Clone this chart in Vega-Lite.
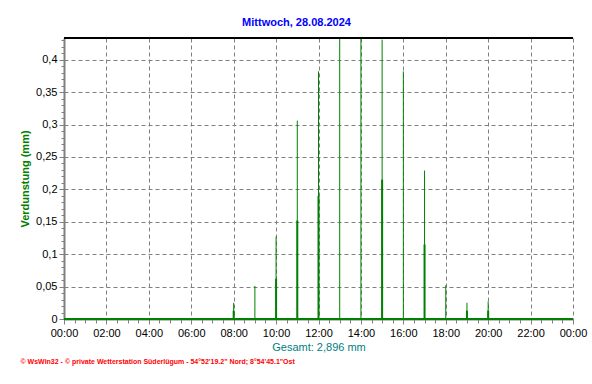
{
  "$schema": "https://vega.github.io/schema/vega-lite/v6.json",
  "width": 509,
  "height": 281,
  "autosize": {"type": "none"},
  "padding": {"left": 64, "top": 38, "right": 19, "bottom": 65},
  "background": "white",
  "config": {"view": {"stroke": null}, "font": "Liberation Sans"},
  "title": {"text": "Mittwoch, 28.08.2024", "color": "#0000ff", "fontSize": 11, "font": "Liberation Sans", "fontWeight": "bold", "dx": -22, "offset": 10},
  "datasets": {
    "bars": [
      {"hour": 8, "value": 0.025, "kind": "tall"},
      {"hour": 9, "value": 0.051, "kind": "tall"},
      {"hour": 10, "value": 0.127, "kind": "tall"},
      {"hour": 11, "value": 0.306, "kind": "tall"},
      {"hour": 12, "value": 0.382, "kind": "tall"},
      {"hour": 13, "value": 0.45, "kind": "tall"},
      {"hour": 14, "value": 0.45, "kind": "tall"},
      {"hour": 15, "value": 0.431, "kind": "tall"},
      {"hour": 16, "value": 0.382, "kind": "tall"},
      {"hour": 17, "value": 0.229, "kind": "tall"},
      {"hour": 18, "value": 0.052, "kind": "tall"},
      {"hour": 19, "value": 0.025, "kind": "tall"},
      {"hour": 20, "value": 0.027, "kind": "tall"},
      {"hour": 8, "value": 0.013, "kind": "short"},
      {"hour": 10, "value": 0.062, "kind": "short"},
      {"hour": 11, "value": 0.152, "kind": "short"},
      {"hour": 12, "value": 0.19, "kind": "short"},
      {"hour": 15, "value": 0.215, "kind": "short"},
      {"hour": 17, "value": 0.115, "kind": "short"},
      {"hour": 19, "value": 0.013, "kind": "short"},
      {"hour": 20, "value": 0.013, "kind": "short"}
    ]
  },
  "data": {"name": "bars"},
  "layer": [
    {
      "transform": [{"filter": "datum.kind == 'tall'"}],
      "mark": {"type": "rule", "color": "#008000", "strokeWidth": 1, "clip": true},
      "encoding": {
        "x": {
          "field": "hour", "type": "quantitative",
          "scale": {"domain": [0, 24], "nice": false, "zero": false},
          "axis": {
            "values": [0, 2, 4, 6, 8, 10, 12, 14, 16, 18, 20, 22, 24],
            "labelExpr": "datum.value == 24 ? '00:00' : (datum.value < 10 ? '0' : '') + datum.value + ':00'",
            "grid": true, "gridColor": "#808080", "gridDash": [4, 3], "gridWidth": 1,
            "domainColor": "#808080", "domainWidth": 2,
            "tickColor": "#808080", "tickSize": 5,
            "labelFont": "Liberation Sans", "labelFontSize": 11, "labelColor": "black", "labelPadding": 3, "labelFlush": false, "labelOverlap": false,
            "title": "Gesamt: 2,896 mm", "titleColor": "#008080", "titleFont": "Liberation Sans", "titleFontWeight": "normal", "titleFontSize": 11, "titlePadding": 3
          }
        },
        "y": {
          "field": "value", "type": "quantitative",
          "scale": {"domain": [0, 0.4335], "nice": false, "zero": true},
          "axis": {
            "values": [0, 0.05, 0.1, 0.15, 0.2, 0.25, 0.3, 0.35, 0.4],
            "labelExpr": "replace(format(datum.value, '~g'), '.', ',')",
            "grid": true, "gridColor": "#808080", "gridDash": [4, 3], "gridWidth": 1,
            "domainColor": "#808080", "domainWidth": 2,
            "tickColor": "#808080", "tickSize": 5,
            "labelFont": "Liberation Sans", "labelFontSize": 11, "labelColor": "black", "labelPadding": 2,
            "title": "Verdunstung  (mm)", "titleColor": "#008000", "titleFont": "Liberation Sans", "titleFontWeight": "bold", "titleFontSize": 11, "titlePadding": 5
          }
        },
        "y2": {"datum": 0}
      }
    },
    {
      "transform": [{"filter": "datum.kind == 'short'"}],
      "mark": {"type": "rule", "color": "#008000", "strokeWidth": 2, "clip": true},
      "encoding": {
        "x": {
          "field": "hour", "type": "quantitative",
          "axis": {
            "orient": "bottom",
            "values": [0, 0.5, 1, 1.5, 2, 2.5, 3, 3.5, 4, 4.5, 5, 5.5, 6, 6.5, 7, 7.5, 8, 8.5, 9, 9.5, 10, 10.5, 11, 11.5, 12, 12.5, 13, 13.5, 14, 14.5, 15, 15.5, 16, 16.5, 17, 17.5, 18, 18.5, 19, 19.5, 20, 20.5, 21, 21.5, 22, 22.5, 23, 23.5, 24],
            "labels": false, "grid": false, "domain": false,
            "tickColor": "#808080", "tickSize": 4,
            "title": "© WsWin32  -  © private Wetterstation Süderlügum  -  54°52'19.2\" Nord; 8°54'45.1\"Ost",
            "titleColor": "#ff0000", "titleFont": "Liberation Sans", "titleFontSize": 7, "titleFontWeight": "bold",
            "titleAnchor": "start", "titleAlign": "left", "titleX": -44, "titleY": 42, "titleBaseline": "middle"
          }
        },
        "y": {
          "field": "value", "type": "quantitative",
          "axis": {
            "orient": "left",
            "values": [0, 0.01, 0.02, 0.03, 0.04, 0.05, 0.06, 0.07, 0.08, 0.09, 0.1, 0.11, 0.12, 0.13, 0.14, 0.15, 0.16, 0.17, 0.18, 0.19, 0.2, 0.21, 0.22, 0.23, 0.24, 0.25, 0.26, 0.27, 0.28, 0.29, 0.3, 0.31, 0.32, 0.33, 0.34, 0.35, 0.36, 0.37, 0.38, 0.39, 0.4, 0.41, 0.42, 0.43],
            "labels": false, "grid": false, "domain": false,
            "tickColor": "#808080", "tickSize": 3, "title": null
          }
        },
        "y2": {"datum": 0}
      }
    },
    {
      "mark": {"type": "rule", "color": "#008000", "strokeWidth": 1},
      "encoding": {"y": {"datum": 0, "axis": null}}
    },
    {
      "mark": {"type": "rule", "color": "#000000", "strokeWidth": 1},
      "encoding": {"y": {"datum": 0.4335, "axis": null}}
    }
  ],
  "resolve": {"axis": {"x": "independent", "y": "independent"}}
}
